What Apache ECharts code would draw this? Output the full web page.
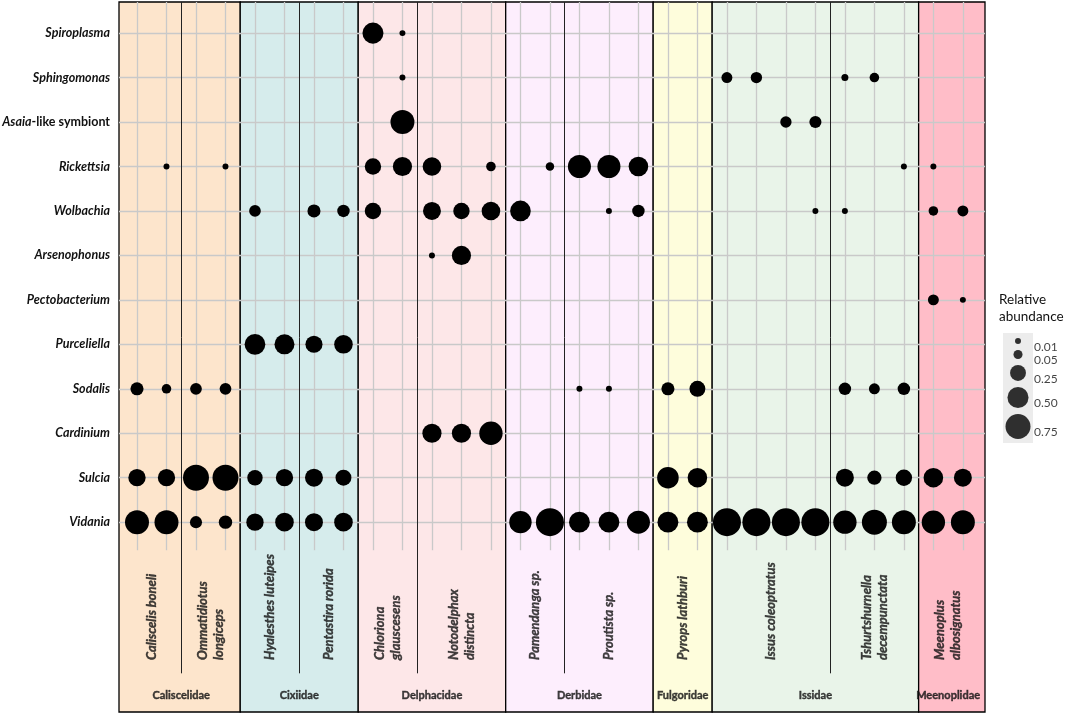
<!DOCTYPE html>
<html>
<head>
<meta charset="utf-8">
<script src="https://cdn.jsdelivr.net/npm/echarts@6.0.0/dist/echarts.min.js"></script>
</head>
<body style="margin:0">
<div id="main" style="width:1065px;height:715px"></div>
<script>
// symbionts, top to bottom
var rows = ['Spiroplasma', 'Sphingomonas', 'Asaia-like symbiont', 'Rickettsia', 'Wolbachia', 'Arsenophonus',
    'Pectobacterium', 'Purceliella', 'Sodalis', 'Cardinium', 'Sulcia', 'Vidania'];

// host species (columns = individuals)
var species = ['Caliscelis boneli', 'Ommatidiotus\nlongiceps', 'Hyalesthes luteipes', 'Pentastira rorida',
    'Chloriona\nglauscesens', 'Notodelphax\ndistincta', 'Pamendanga sp.', 'Proutista sp.', 'Pyrops lathburi',
    'Issus coleoptratus', 'Tshurtshurnella\ndecempunctata', 'Meenoplus\nalbosignatus'];
var speciesCols = [2, 2, 2, 2, 2, 3, 2, 3, 2, 4, 3, 2];
var speciesFamily = ['Caliscelidae', 'Caliscelidae', 'Cixiidae', 'Cixiidae', 'Delphacidae', 'Delphacidae',
    'Derbidae', 'Derbidae', 'Fulgoridae', 'Issidae', 'Issidae', 'Meenoplidae'];
var families = ['Caliscelidae', 'Cixiidae', 'Delphacidae', 'Derbidae', 'Fulgoridae', 'Issidae', 'Meenoplidae'];
var familyColors = ['#fde5cc', '#d6ecec', '#fde7e8', '#fdeefd', '#fefddc', '#e9f4e9', '#ffbdc8'];

// relative abundance per individual (0 = absent)
//                  Cal  |Omm  |Hya  |Pen  |Chl    |Not          |Pam    |Pro             |Pyr      |Iss                  |Tsh             |Mee
var spiroplasma   = [0,0, 0,0, 0,0, 0,0, 0.5,0.01, 0,0,0, 0,0, 0,0,0, 0,0, 0,0,0,0, 0,0,0, 0,0];
var sphingomonas  = [0,0, 0,0, 0,0, 0,0, 0,0.01, 0,0,0, 0,0, 0,0,0, 0,0, 0.09,0.1,0,0, 0.02,0.06,0, 0,0];
var asaia         = [0,0, 0,0, 0,0, 0,0, 0,0.68, 0,0,0, 0,0, 0,0,0, 0,0, 0,0,0.1,0.12, 0,0,0, 0,0];
var rickettsia    = [0,0.01, 0,0.01, 0,0, 0,0, 0.27,0.4, 0.37,0,0.06, 0,0.04, 0.62,0.62,0.42, 0,0, 0,0,0,0, 0,0,0.01, 0.01,0];
var wolbachia     = [0,0, 0,0, 0.11,0, 0.15,0.13, 0.27,0, 0.34,0.27,0.37, 0.48,0, 0,0.01,0.13, 0,0, 0,0,0,0.01, 0.01,0,0, 0.06,0.09];
var arsenophonus  = [0,0, 0,0, 0,0, 0,0, 0,0, 0.01,0.4,0, 0,0, 0,0,0, 0,0, 0,0,0,0, 0,0,0, 0,0];
var pectobacterium= [0,0, 0,0, 0,0, 0,0, 0,0, 0,0,0, 0,0, 0,0,0, 0,0, 0,0,0,0, 0,0,0, 0.09,0.01];
var purceliella   = [0,0, 0,0, 0.48,0.44, 0.3,0.37, 0,0, 0,0,0, 0,0, 0,0,0, 0,0, 0,0,0,0, 0,0,0, 0,0];
var sodalis       = [0.15,0.06, 0.11,0.11, 0,0, 0,0, 0,0, 0,0,0, 0,0, 0.01,0.01,0, 0.15,0.25, 0,0,0,0, 0.13,0.09,0.13, 0,0];
var cardinium     = [0,0, 0,0, 0,0, 0,0, 0,0, 0.4,0.4,0.64, 0,0, 0,0,0, 0,0, 0,0,0,0, 0,0,0, 0,0];
var sulcia        = [0.31,0.31, 0.82,0.82, 0.23,0.31, 0.34,0.25, 0,0, 0,0,0, 0,0, 0,0,0, 0.53,0.42, 0,0,0,0, 0.34,0.19,0.27, 0.42,0.34];
var vidania       = [0.68,0.68, 0.12,0.16, 0.31,0.37, 0.34,0.37, 0,0, 0,0,0, 0.58,0.98, 0.49,0.49,0.62, 0.49,0.49, 0.98,0.98,0.98,0.98, 0.64,0.75,0.68, 0.64,0.68];
var abundance = [spiroplasma, sphingomonas, asaia, rickettsia, wolbachia, arsenophonus,
    pectobacterium, purceliella, sodalis, cardinium, sulcia, vidania];

var legendValues = [0.01, 0.05, 0.25, 0.5, 0.75];
var legendLabels = ['0.01', '0.05', '0.25', '0.50', '0.75'];

function sizeOf(v) { return 3.5 + 24.8 * Math.sqrt(v); }

var nRows = rows.length;
var nCols = speciesCols.reduce(function (a, b) { return a + b; }, 0);
var xMin = -0.61, xMax = nCols - 0.25;
var yMin = -4.27, yMax = nRows - 0.3;
var gridBottomY = -0.63, dividerBottomY = -3.4, speciesLabelY = -3.1, familyLabelY = -3.89;

// bubbles
var bubbles = [];
abundance.forEach(function (arr, r) {
    arr.forEach(function (v, c) {
        if (v > 0) bubbles.push([c, nRows - 1 - r, v]);
    });
});

// species / family spans
var speciesStart = [], start = 0;
speciesCols.forEach(function (n) { speciesStart.push(start); start += n; });

var famSpan = {};
species.forEach(function (s, i) {
    var f = speciesFamily[i];
    var a = speciesStart[i], b = speciesStart[i] + speciesCols[i] - 1;
    if (!famSpan[f]) famSpan[f] = [a, b];
    else famSpan[f][1] = b;
});

var bgAreas = families.map(function (f, i) {
    var a = famSpan[f][0] - 0.5, b = famSpan[f][1] + 0.5;
    if (i === 0) a = xMin;
    if (i === families.length - 1) b = xMax;
    return [{ xAxis: a, yAxis: yMin, itemStyle: { color: familyColors[i] } }, { xAxis: b, yAxis: yMax }];
});

var gridLines = [];
for (var c = 0; c < nCols; c++) {
    gridLines.push([{ coord: [c, yMax] }, { coord: [c, gridBottomY] }]);
}
for (var r = 0; r < nRows; r++) {
    gridLines.push([{ coord: [xMin, r] }, { coord: [xMax, r] }]);
}

var dividers = [];
species.forEach(function (s, i) {
    if (i > 0 && speciesFamily[i] === speciesFamily[i - 1]) {
        var x = speciesStart[i] - 0.5;
        dividers.push([{ coord: [x, yMax] }, { coord: [x, dividerBottomY] }]);
    }
});

var speciesLabels = species.map(function (s, i) {
    return { value: [speciesStart[i] + (speciesCols[i] - 1) / 2, speciesLabelY], name: s };
});
var familyLabels = families.map(function (f) {
    return { value: [(famSpan[f][0] + famSpan[f][1]) / 2, familyLabelY], name: f };
});

// legend key positions (stacked by size)
var legendData = [], ly = 11;
legendValues.forEach(function (v, i) {
    if (i > 0) ly += (sizeOf(legendValues[i - 1]) + sizeOf(v)) / 2 + 6;
    legendData.push({ value: [15, ly, v], name: legendLabels[i] });
});

var fontFam = 'Lato, "Open Sans", sans-serif';

var myChart = echarts.init(document.getElementById('main'));
var option = {
    animation: false,
    title: {
        text: 'Relative\nabundance',
        left: 994, top: 286,
        textStyle: { fontFamily: fontFam, fontSize: 13.5, fontWeight: 'normal', color: '#111', lineHeight: 17 }
    },
    graphic: [{
        type: 'rect', left: 1003, top: 333, z: 0,
        shape: { width: 30, height: 110 },
        style: { fill: '#ececec' }
    }],
    grid: [
        { left: 119, right: 80, top: 2, bottom: 3, outerBoundsMode: 'none' },
        { left: 1003, top: 330, width: 60, height: 120, outerBoundsMode: 'none' }
    ],
    xAxis: [
        { type: 'value', min: xMin, max: xMax, show: false },
        { type: 'value', gridIndex: 1, min: 0, max: 60, show: false }
    ],
    yAxis: [
        {
            type: 'value', min: yMin, max: yMax,
            axisLine: { show: false }, axisTick: { show: false }, splitLine: { show: false },
            axisLabel: {
                customValues: rows.map(function (n, i) { return nRows - 1 - i; }),
                margin: 9,
                formatter: function (v) {
                    var name = rows[nRows - 1 - Math.round(v)];
                    if (name.indexOf('-like') > 0) {
                        var p = name.split('-like');
                        return '{i|' + p[0] + '}{n|-like' + p[1] + '}';
                    }
                    return '{i|' + name + '}';
                },
                rich: {
                    i: { fontFamily: fontFam, fontSize: 12.5, fontWeight: 'bold', fontStyle: 'italic', color: '#111' },
                    n: { fontFamily: fontFam, fontSize: 12.5, fontWeight: 'bold', color: '#111' }
                }
            }
        },
        { type: 'value', gridIndex: 1, min: 0, max: 120, inverse: true, show: false }
    ],
    series: [
        {
            type: 'scatter', data: [], z: 1, silent: true,
            markArea: {
                silent: true, z: 1,
                itemStyle: { borderColor: '#000', borderWidth: 1.3 },
                data: bgAreas
            }
        },
        {
            type: 'scatter', data: [], z: 2, silent: true,
            markLine: {
                silent: true, z: 2, symbol: ['none', 'none'], label: { show: false },
                lineStyle: { color: '#c9c9c9', width: 1.3, type: 'solid' },
                data: gridLines
            }
        },
        {
            type: 'scatter', data: [], z: 2, silent: true,
            markLine: {
                silent: true, z: 3, symbol: ['none', 'none'], label: { show: false },
                lineStyle: { color: '#222', width: 1, type: 'solid' },
                data: dividers
            }
        },
        {
            type: 'scatter', z: 10, data: bubbles,
            symbolSize: function (d) { return sizeOf(d[2]); },
            itemStyle: { color: '#000', opacity: 1 }
        },
        {
            type: 'scatter', z: 10, data: speciesLabels, symbolSize: 0, silent: true,
            label: {
                show: true, position: 'inside', rotate: 90, align: 'left', verticalAlign: 'middle',
                formatter: function (p) {
                    return p.name.split('\n').map(function (t) { return '{s|' + t + '}'; }).join('\n');
                },
                rich: {
                    s: { fontFamily: fontFam, fontSize: 13, fontWeight: 700, fontStyle: 'italic',
                         color: '#111', lineHeight: 16, textBorderColor: '#111', textBorderWidth: 0.4 }
                }
            }
        },
        {
            type: 'scatter', z: 10, data: familyLabels, symbolSize: 0, silent: true,
            label: {
                show: true, position: 'inside', align: 'center', verticalAlign: 'middle',
                formatter: '{f|{b}}',
                rich: {
                    f: { fontFamily: fontFam, fontSize: 11, fontWeight: 700, color: '#111',
                         textBorderColor: '#111', textBorderWidth: 0.4 }
                }
            }
        },
        {
            type: 'scatter', z: 10, xAxisIndex: 1, yAxisIndex: 1, data: legendData, silent: true,
            symbolSize: function (d) { return sizeOf(d[2]); },
            itemStyle: { color: '#000' },
            label: {
                show: true, position: 'right', distance: 0, formatter: '{b}',
                fontFamily: fontFam, fontSize: 12, color: '#111'
            },
            labelLayout: function (p) {
                return { x: p.rect.x + p.rect.width / 2 + 16, align: 'left' };
            }
        }
    ]
};
myChart.setOption(option);
</script>
</body>
</html>
